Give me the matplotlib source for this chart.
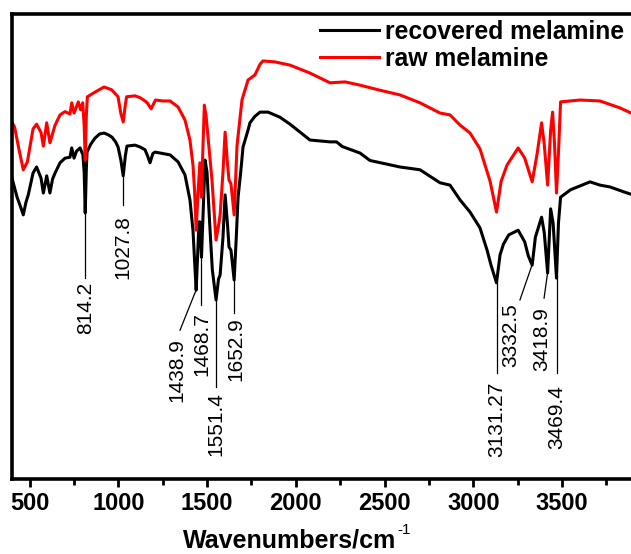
import numpy as np
import matplotlib
matplotlib.use("Agg")
import matplotlib.pyplot as plt
from matplotlib import font_manager as fm

# ---------------- data ----------------
black_wn = [400, 430, 450, 465, 480, 493, 520, 540, 565, 578, 597, 615, 630, 644, 672, 700, 728, 738, 751, 765,
            785, 801, 808, 814, 820, 824, 845, 869, 895, 920, 945, 965, 985, 999, 1015, 1028, 1040, 1049, 1094,
            1123, 1151, 1165, 1179, 1195, 1207, 1250, 1292, 1337, 1376, 1404, 1421, 1430, 1439, 1455, 1460,
            1469, 1476, 1489, 1500, 1515, 1530, 1551, 1565, 1574, 1590, 1602, 1615, 1624, 1635, 1653, 1665,
            1675, 1690, 1703, 1731, 1742, 1770, 1799, 1815, 1844, 1911, 1968, 2080, 2193, 2230, 2262, 2362,
            2418, 2587, 2700, 2813, 2869, 2926, 2982, 3038, 3078, 3100, 3131, 3151, 3170, 3200, 3253, 3290,
            3310, 3332, 3350, 3385, 3400, 3419, 3436, 3450, 3469, 3480, 3492, 3548, 3658, 3714, 3771, 3852, 3900]
black_T = [64.9, 60.6, 58.5, 56.8, 59.5, 61.1, 65.8, 67.1, 64.7, 61.5, 65.2, 61.5, 64.5, 65.8, 68.0, 69.0, 69.2,
           71.2, 69.0, 70.5, 71.2, 69.7, 66.0, 57.2, 66.5, 70.3, 72.0, 73.3, 74.2, 74.4, 74.0, 73.5, 72.5, 71.4,
           68.5, 65.2, 69.5, 71.6, 71.8, 71.4, 70.8, 69.5, 68.0, 70.0, 70.3, 70.0, 69.7, 68.2, 65.4, 60.0, 53.5,
           47.0, 40.6, 55.3, 55.3, 47.7, 55.0, 68.6, 66.0, 55.0, 45.0, 38.5, 43.0, 43.9, 52.0, 61.1, 55.0, 49.9,
           49.2, 42.8, 52.0, 60.6, 66.0, 71.4, 75.0, 76.6, 78.0, 78.9, 78.9, 78.9, 77.8, 76.3, 72.9, 72.5, 72.5,
           71.5, 70.1, 68.5, 67.1, 66.5, 63.7, 63.2, 60.0, 57.4, 54.0, 49.2, 46.0, 42.2, 48.2, 50.5, 52.5, 53.5,
           51.0, 48.0, 46.0, 52.0, 56.3, 53.0, 44.3, 58.1, 55.0, 43.2, 55.0, 60.6, 62.2, 63.9, 63.2, 62.8, 61.7,
           61.1]

red_wn = [400, 416, 440, 465, 488, 520, 540, 565, 578, 597, 615, 644, 672, 700, 728, 738, 751, 775, 788, 800,
          808, 814, 820, 826, 869, 920, 963, 999, 1015, 1028, 1040, 1047, 1094, 1123, 1151, 1165, 1185, 1210,
          1250, 1292, 1337, 1376, 1404, 1421, 1430, 1439, 1450, 1460, 1469, 1476, 1485, 1495, 1528, 1551,
          1565, 1574, 1590, 1602, 1615, 1624, 1635, 1653, 1669, 1697, 1731, 1770, 1799, 1815, 1883, 1968,
          2080, 2193, 2278, 2362, 2475, 2587, 2700, 2813, 2869, 2926, 2982, 3038, 3095, 3131, 3157, 3190,
          3253, 3290, 3332, 3360, 3385, 3400, 3419, 3436, 3447, 3458, 3469, 3480, 3492, 3601, 3714, 3827, 3900]
red_T = [76.8, 75.7, 71.0, 66.5, 68.2, 75.3, 76.3, 74.5, 71.6, 76.6, 72.3, 76.1, 78.3, 79.0, 78.5, 80.9, 78.7,
         81.1, 79.4, 80.9, 76.0, 68.6, 78.0, 82.2, 83.2, 84.3, 83.7, 82.2, 78.5, 76.8, 80.5, 82.2, 82.4, 82.0,
         81.3, 80.8, 79.6, 81.5, 81.3, 81.3, 80.0, 77.2, 72.9, 67.5, 62.0, 53.5, 62.0, 68.0, 60.6, 70.0, 80.4,
         78.0, 64.3, 51.4, 54.5, 56.8, 66.0, 74.6, 68.0, 64.3, 63.5, 56.8, 71.6, 81.5, 85.8, 86.9, 89.2, 89.9,
         89.7, 89.0, 87.3, 85.2, 85.4, 84.7, 83.6, 82.6, 80.9, 78.7, 78.3, 76.1, 74.4, 71.0, 64.0, 57.4, 64.0,
         67.5, 71.2, 69.0, 63.9, 70.0, 76.6, 72.0, 63.2, 75.0, 78.9, 72.0, 61.5, 70.0, 81.1, 81.5, 81.3, 79.8,
         78.5]

peak_labels = ['814.2', '1027.8', '1438.9', '1468.7', '1551.4', '1652.9',
               '3131.27', '3332.5', '3418.9', '3469.4']
peak_wn = [814.2, 1027.8, 1438.9, 1468.7, 1551.4, 1652.9, 3131.27, 3332.5, 3418.9, 3469.4]

series_labels = ['recovered melamine', 'raw melamine']
xticks = [500, 1000, 1500, 2000, 2500, 3000, 3500]

# ---------------- layout (annotation geometry) ----------------
# (line end x, line end y, text anchor x, text top y)
ann_layout = [
    (814.2, 43.2, 814.2, 42.4),
    (1027.8, 58.9, 1027.8, 56.8),
    (1348, 32.0, 1331, 30.3),
    (1468.7, 37.4, 1468.7, 35.9),
    (1551.4, 19.8, 1551.4, 18.7),
    (1652.9, 35.7, 1665, 34.8),
    (3131.27, 22.8, 3131.27, 20.9),
    (3263, 38.5, 3212, 37.8),
    (3399, 38.9, 3387, 37.0),
    (3469.4, 22.8, 3469.4, 20.2),
]

# ---------------- fonts ----------------
avail = {f.name for f in fm.fontManager.ttflist}
narrow = 'Liberation Sans Narrow' if 'Liberation Sans Narrow' in avail else 'Liberation Sans'
plt.rcParams['font.family'] = [narrow, 'DejaVu Sans']

W, H = 631, 554
fig = plt.figure(figsize=(W / 100, H / 100), dpi=100)
ax_left = 11.75 / W
ax_right = 633 / W
ax_top = 1 - 14 / H
ax_bot = 1 - 479 / H
ax = fig.add_axes([ax_left, ax_bot, ax_right - ax_left, ax_top - ax_bot])

ax.plot(black_wn, black_T, color='black', lw=2.2, label=series_labels[0], solid_joinstyle='round')
ax.plot(red_wn, red_T, color='#ff0000', lw=2.2, label=series_labels[1], solid_joinstyle='round')

ax.set_xlim(400, 3900)
ax.set_ylim(0, 100)
ax.set_yticks([])
ax.set_xticks(xticks)
ax.set_xticks([x + 250 for x in xticks[:-1]] + [3750], minor=True)
ax.tick_params(axis='x', which='major', direction='out', length=6, width=2, pad=3,
               labelsize=17)
ax.tick_params(axis='x', which='minor', direction='out', length=4, width=2)
for lab in ax.get_xticklabels():
    lab.set_fontweight('bold')
for s in ax.spines.values():
    s.set_linewidth(2.6)

# annotations
for lab, pw, (lx, ly, tx, ty) in zip(peak_labels, peak_wn, ann_layout):
    y0 = np.interp(pw, black_wn, black_T)
    ax.plot([pw, lx], [y0, ly], color='black', lw=0.9)
    ax.text(tx, ty, lab, rotation=90, ha='center', va='top', fontsize=15)

# x label with superscript
xl = fig.text(183 / W, 1 - 547 / H, 'Wavenumbers/cm', ha='left', va='baseline',
              fontsize=18, fontweight='bold')
fig.canvas.draw()
bb = xl.get_window_extent(renderer=fig.canvas.get_renderer())
fig.text((bb.x1 + 1) / W, 1 - 523 / H, '-1', ha='left', va='top', fontsize=11)

leg = ax.legend(loc='upper left', bbox_to_anchor=(320 / W, 1 - 20 / H), bbox_transform=fig.transFigure,
                frameon=False, prop={'weight': 'bold', 'size': 17.8}, handlelength=2.4,
                handletextpad=0.24, labelspacing=0.12, borderpad=0, borderaxespad=0)
for line in leg.get_lines():
    line.set_linewidth(2.2)

fig.savefig('out.png', dpi=100)
